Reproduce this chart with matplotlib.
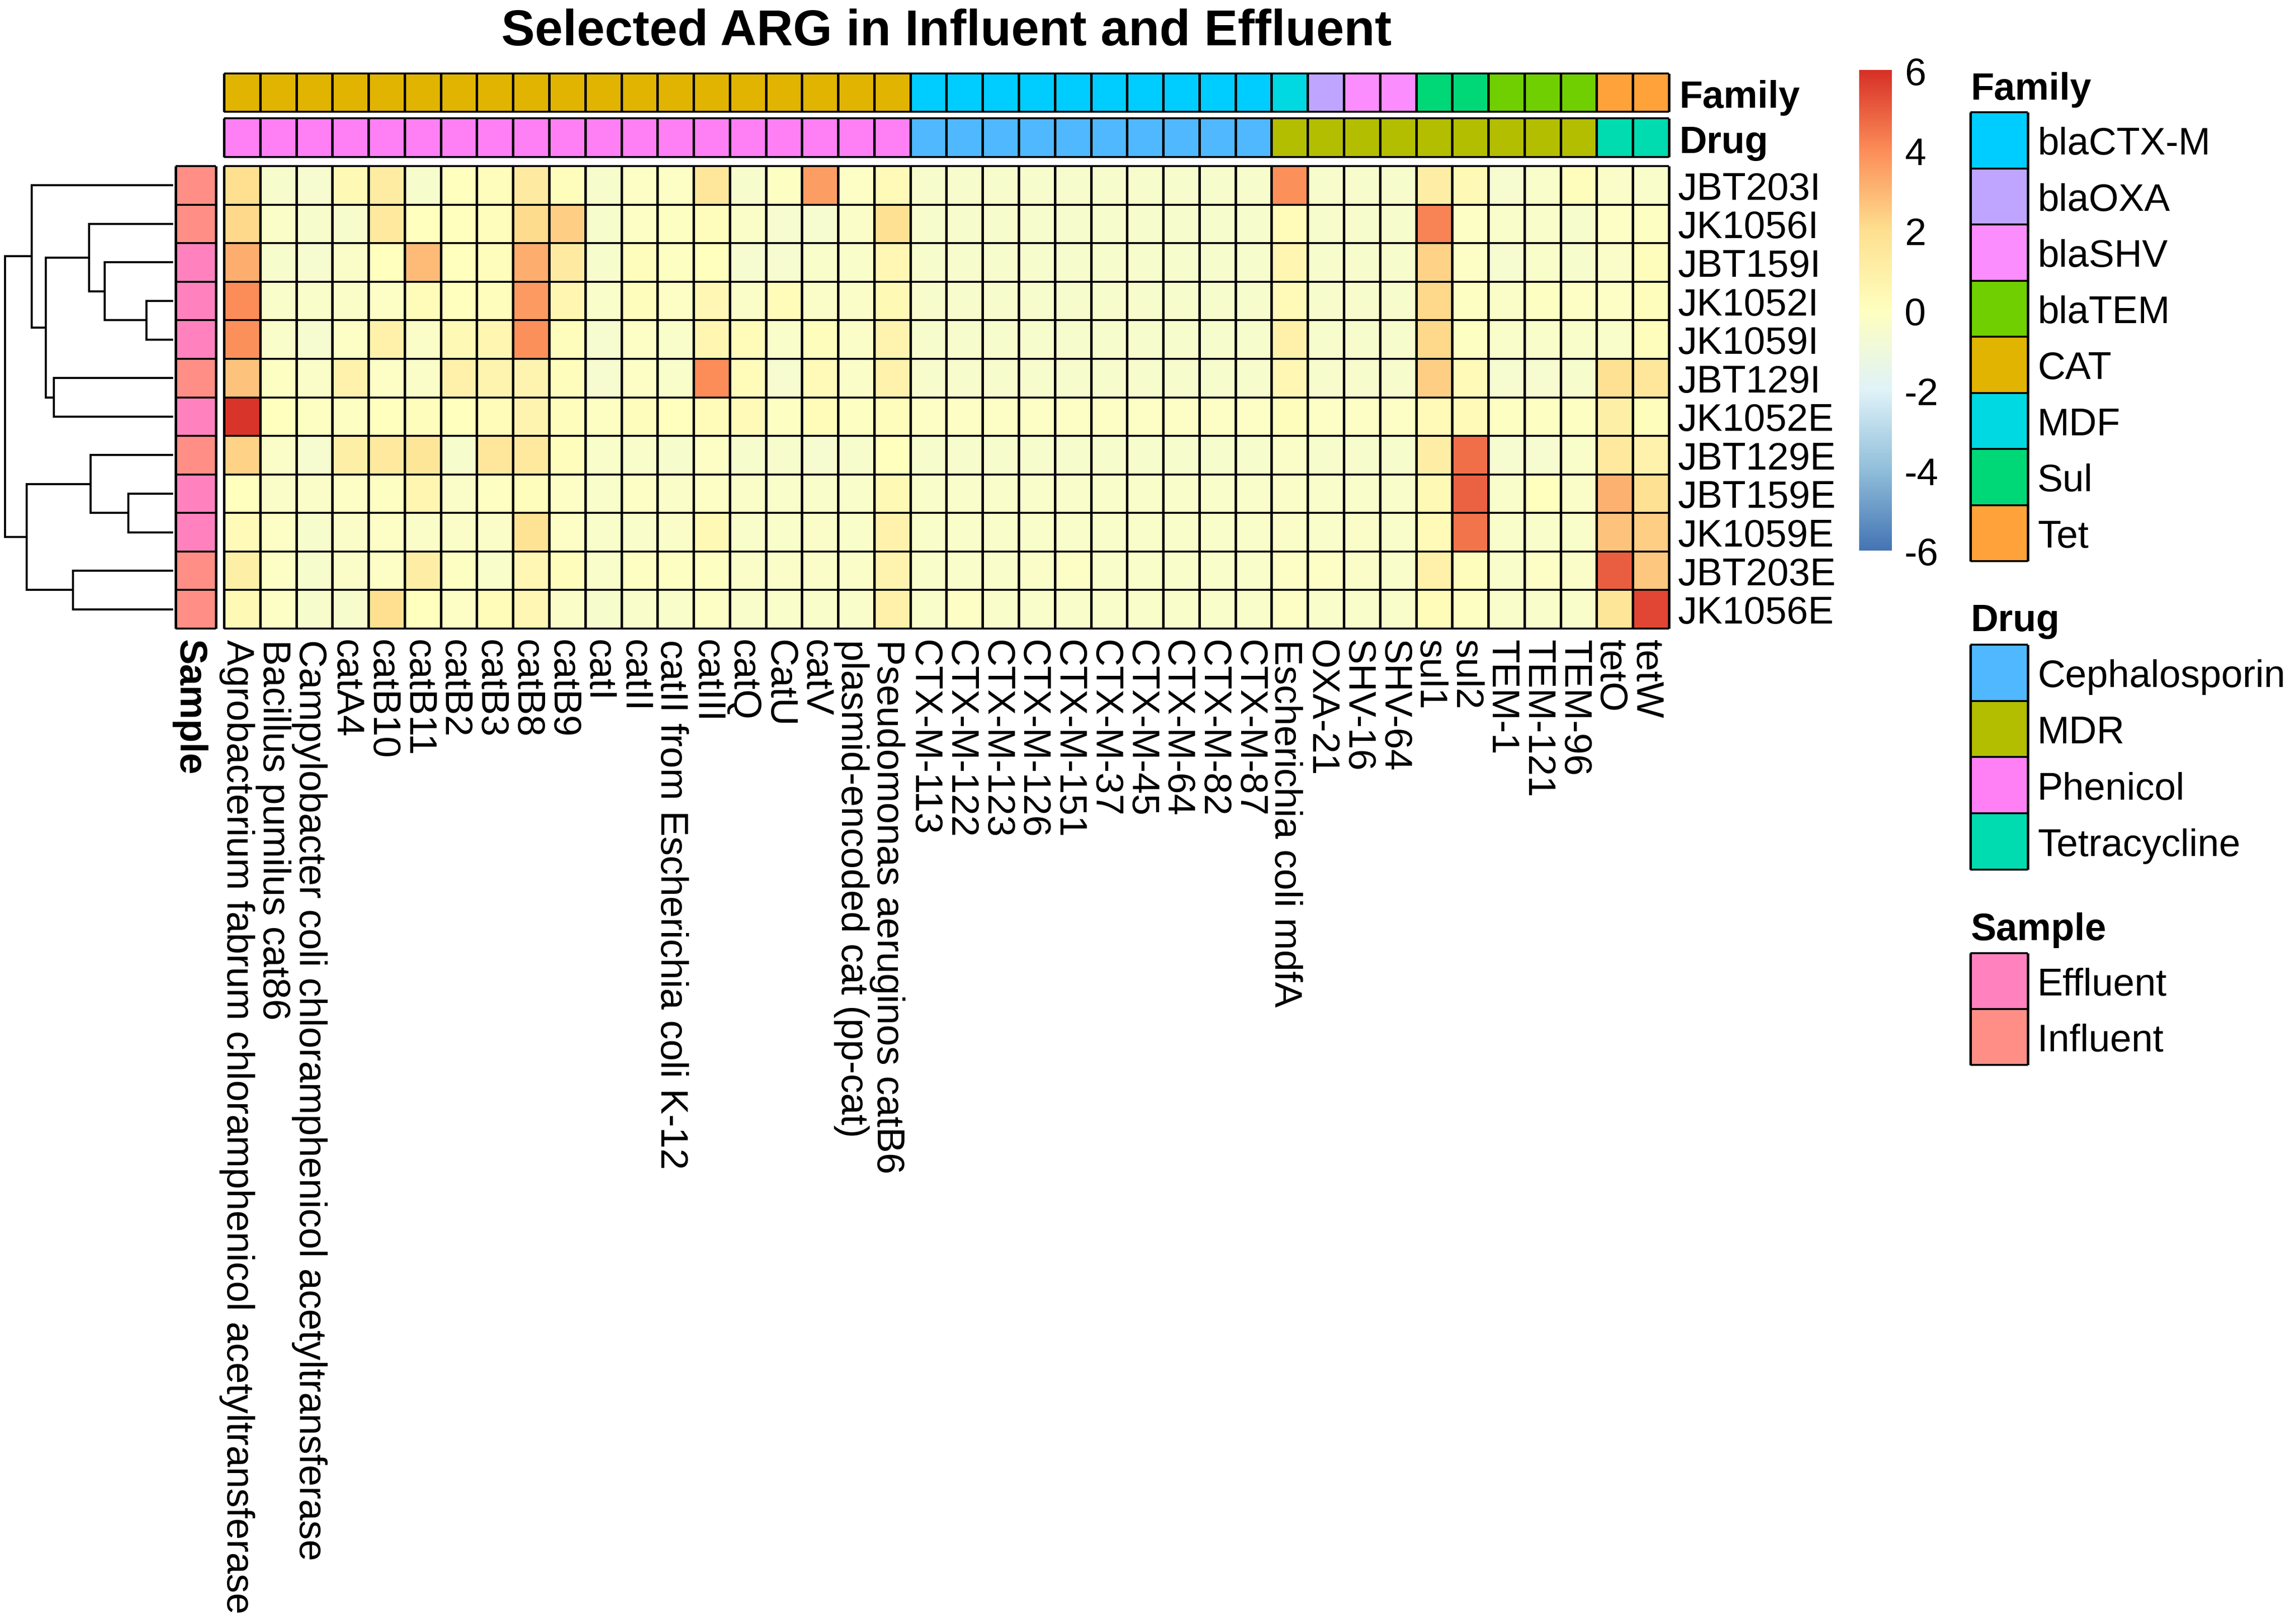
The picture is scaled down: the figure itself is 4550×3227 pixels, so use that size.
import numpy as np
import matplotlib
matplotlib.use("Agg")
import matplotlib.pyplot as plt
from matplotlib.colors import LinearSegmentedColormap, ListedColormap

plt.rcParams['font.family'] = ['Liberation Sans', 'DejaVu Sans']

W, H = 4550, 3227

title = "Selected ARG in Influent and Effluent"

samples = ["JBT203I", "JK1056I", "JBT159I", "JK1052I", "JK1059I", "JBT129I",
           "JK1052E", "JBT129E", "JBT159E", "JK1059E", "JBT203E", "JK1056E"]
sample_type = ["Influent", "Influent", "Effluent", "Effluent", "Effluent", "Influent",
               "Effluent", "Influent", "Effluent", "Effluent", "Influent", "Influent"]

genes = ["Agrobacterium fabrum chloramphenicol acetyltransferase", "Bacillus pumilus cat86",
         "Campylobacter coli chloramphenicol acetyltransferase", "catA4", "catB10", "catB11",
         "catB2", "catB3", "catB8", "catB9", "catI", "catII",
         "catII from Escherichia coli K-12", "catIII", "catQ", "CatU", "catV",
         "plasmid-encoded cat (pp-cat)", "Pseudomonas aeruginos catB6",
         "CTX-M-113", "CTX-M-122", "CTX-M-123", "CTX-M-126", "CTX-M-151", "CTX-M-37",
         "CTX-M-45", "CTX-M-64", "CTX-M-82", "CTX-M-87",
         "Escherichia coli mdfA", "OXA-21", "SHV-16", "SHV-64", "sul1", "sul2",
         "TEM-1", "TEM-121", "TEM-96", "tetO", "tetW"]

gene_family = ["CAT"] * 19 + ["blaCTX-M"] * 10 + ["MDF", "blaOXA", "blaSHV", "blaSHV", "Sul", "Sul",
                                                   "blaTEM", "blaTEM", "blaTEM", "Tet", "Tet"]
gene_drug = ["Phenicol"] * 19 + ["Cephalosporin"] * 10 + ["MDR"] * 9 + ["Tetracycline"] * 2

# one list per gene, rows in the order of `samples`
phenicol_values = [
    [2.0, 2.2, 3.2, 4.0, 3.9, 2.7, 5.9, 2.3, 0.0, 0.3, 1.0, 0.4],
    [-0.5, -0.3, -0.5, -0.4, -0.4, -0.1, 0.0, -0.3, -0.3, -0.2, -0.2, -0.2],
    [-0.6, -0.5, -0.6, -0.4, -0.6, -0.3, -0.1, -0.6, -0.3, -0.5, -0.5, -0.5],
    [0.4, -0.5, -0.3, -0.3, -0.2, 0.8, -0.1, 1.0, -0.2, -0.3, -0.3, -0.5],
    [1.2, 1.4, 0.0, -0.2, 0.9, -0.2, 0.0, 1.4, -0.1, -0.2, -0.2, 2.0],
    [-0.5, 0.0, 2.9, 0.2, -0.3, -0.3, 0.1, 1.6, 0.6, -0.3, 1.1, 0.0],
    [0.0, 0.0, 0.0, 0.0, 0.4, 0.9, 0.0, -0.5, -0.3, -0.3, -0.1, -0.2],
    [0.1, 0.1, 0.1, 0.1, 0.6, 0.7, 0.2, 1.5, -0.1, -0.3, -0.4, 0.2],
    [1.3, 2.1, 3.2, 3.7, 3.9, 0.7, 0.7, 1.4, 0.1, 1.8, 0.5, 0.5],
    [0.1, 2.4, 1.3, 0.6, 0.1, 0.1, 0.1, 0.1, -0.2, -0.2, 0.1, -0.3],
    [-0.5, -0.5, -0.5, -0.4, -0.6, -0.6, -0.1, -0.4, -0.4, -0.4, -0.4, -0.5],
    [-0.2, -0.2, 0.1, 0.1, -0.2, -0.2, 0.1, -0.4, -0.2, -0.4, -0.1, -0.4],
    [-0.2, -0.1, -0.1, -0.2, -0.4, -0.4, 0.0, -0.5, -0.3, -0.3, -0.1, -0.4],
    [1.5, 0.1, 0.0, 0.5, 0.6, 4.0, 0.2, -0.2, -0.2, 0.4, -0.1, -0.2],
    [-0.5, -0.3, -0.6, -0.3, 0.2, 0.2, 0.3, -0.5, -0.3, -0.4, -0.3, -0.4],
    [-0.1, -0.6, -0.6, 0.2, -0.4, -0.6, -0.1, -0.5, -0.4, -0.4, -0.3, -0.4],
    [3.6, -0.6, -0.4, -0.3, 0.1, 0.3, 0.2, -0.6, -0.4, -0.3, -0.3, -0.4],
    [-0.2, -0.3, -0.4, -0.3, -0.3, -0.3, -0.1, -0.5, -0.4, -0.4, -0.3, -0.4],
    [0.3, 1.9, 0.5, 0.4, 0.7, 0.8, 0.1, 0.0, 0.4, 0.8, 0.7, 0.9],
]
ctx_values = [
    [-0.5, -0.5, -0.5, -0.5, -0.5, -0.5, -0.2, -0.5, -0.4, -0.4, -0.4, -0.4],
    [-0.5, -0.5, -0.5, -0.5, -0.5, -0.5, -0.2, -0.5, -0.4, -0.4, -0.4, -0.2],
    [-0.5, -0.5, -0.5, -0.5, -0.5, -0.5, -0.2, -0.5, -0.4, -0.4, -0.4, -0.4],
    [-0.5, -0.5, -0.5, -0.5, -0.5, -0.5, -0.2, -0.5, -0.4, -0.4, -0.3, -0.4],
    [-0.5, -0.5, -0.5, -0.5, -0.5, -0.5, -0.2, -0.5, -0.4, -0.4, -0.2, -0.4],
    [-0.5, -0.5, -0.5, -0.5, -0.5, -0.5, -0.2, -0.5, -0.4, -0.4, -0.4, -0.4],
    [-0.5, -0.5, -0.5, -0.5, -0.5, -0.5, -0.2, -0.5, -0.4, -0.4, -0.4, -0.4],
    [-0.5, -0.5, -0.5, -0.5, -0.5, -0.5, -0.2, -0.5, -0.4, -0.4, -0.4, -0.4],
    [-0.5, -0.5, -0.5, -0.5, -0.5, -0.5, -0.2, -0.5, -0.4, -0.4, -0.4, -0.4],
    [-0.5, -0.5, -0.5, -0.5, -0.5, -0.5, -0.2, -0.5, -0.4, -0.4, -0.4, -0.4],
]
other_values = [
    [3.9, 0.2, 0.6, 0.3, 0.9, 0.5, 0.1, -0.3, -0.3, -0.3, -0.2, -0.2],
    [-0.5, -0.5, -0.5, -0.5, -0.5, -0.5, -0.2, -0.5, -0.4, -0.4, -0.2, -0.4],
    [-0.5, -0.5, -0.5, -0.5, -0.5, -0.5, -0.2, -0.5, -0.4, -0.3, -0.3, -0.4],
    [-0.5, -0.5, -0.5, -0.5, -0.5, -0.5, -0.2, -0.5, -0.4, -0.4, -0.4, -0.4],
    [1.1, 4.2, 2.3, 2.2, 2.2, 2.4, 0.3, 1.1, 0.4, 0.3, 0.9, 0.2],
    [0.4, -0.2, -0.2, -0.1, -0.1, 0.3, 0.3, 4.6, 4.9, 4.5, 0.1, -0.1],
    [-0.6, -0.4, -0.6, -0.3, -0.4, -0.6, -0.1, -0.6, -0.4, -0.4, -0.4, -0.4],
    [-0.4, -0.4, -0.4, -0.1, -0.4, -0.6, -0.1, -0.6, 0.0, -0.4, -0.2, -0.4],
    [0.1, -0.5, -0.5, -0.2, -0.4, -0.5, -0.1, -0.4, -0.3, -0.4, -0.3, -0.4],
    [-0.3, -0.2, -0.3, -0.2, -0.4, 1.9, 1.0, 1.4, 3.1, 2.7, 5.0, 1.6],
    [-0.4, -0.1, 0.1, 0.1, 0.1, 1.5, 0.1, 0.8, 1.9, 2.4, 2.6, 5.5],
]

# dendrogram merges: (child a, child b, height); ids below 12 are rows, 12+ are earlier merges
merges = [(3, 4, 53), (2, 12, 136), (1, 13, 167), (5, 6, 237), (14, 15, 253), (0, 16, 281),
          (8, 9, 89), (7, 18, 164), (10, 11, 199), (19, 20, 291), (17, 21, 334)]

scale_colors = ["#4575B4", "#91BFDB", "#E0F3F8", "#FFFFBF", "#FEE090", "#FC8D59", "#D73027"]
scale_ticks = [-6, -4, -2, 0, 2, 4, 6]

family_levels = ["blaCTX-M", "blaOXA", "blaSHV", "blaTEM", "CAT", "MDF", "Sul", "Tet"]
family_colors = ["#00CDFF", "#BFA5FF", "#FB8DFF", "#6FCF00", "#E0B400", "#00D8E2", "#00D877", "#FFA23A"]
drug_levels = ["Cephalosporin", "MDR", "Phenicol", "Tetracycline"]
drug_colors = ["#4FB8FF", "#B3BE00", "#FF80F4", "#00DBB0"]
sample_levels = ["Effluent", "Influent"]
sample_colors = ["#FF82BE", "#FF8F86"]

FS = 18.35
FSB = 18.2
LW_V = 1.2
LW_H = 0.9

fig = plt.figure(figsize=(W / 300, H / 300), dpi=300, facecolor="white")


def box(x0, y0, x1, y1):
    a = fig.add_axes([x0 / W, 1 - y1 / H, (x1 - x0) / W, (y1 - y0) / H])
    a.set_facecolor("none")
    return a


def ptext(x, y, s, **kw):
    fig.text(x / W, 1 - y / H, s, color="black", **kw)


def cells(a, data, **kw):
    data = np.asarray(data)
    nr, nc = data.shape
    a.pcolormesh(np.arange(nc + 1), np.arange(nr + 1), data, **kw)
    a.set_xlim(0, nc)
    a.set_ylim(nr, 0)
    a.axis("off")
    a.vlines(np.arange(nc + 1), 0, nr, color="black", lw=LW_V, clip_on=False, zorder=3)
    a.hlines(np.arange(nr + 1), 0, nc, color="black", lw=LW_H, clip_on=False, zorder=3)


def categorical(a, levels, colors, values, vertical=False):
    idx = np.array([levels.index(v) for v in values])
    idx = idx[:, None] if vertical else idx[None, :]
    cells(a, idx, cmap=ListedColormap(colors), vmin=-0.5, vmax=len(levels) - 0.5)


# main heat map
matrix = np.column_stack(phenicol_values + ctx_values + other_values)
cmap = LinearSegmentedColormap.from_list("rdylbu", scale_colors, N=256)
hm = box(445, 330, 3316, 1249)
cells(hm, matrix, cmap=cmap, vmin=-6, vmax=6)

col_w = (3316 - 445) / len(genes)
row_h = (1249 - 330) / len(samples)
for i, g in enumerate(genes):
    ptext(445 + (i + 0.5) * col_w - 10, 1271, g, rotation=270, ha="center", va="top", fontsize=FS)
for j, s in enumerate(samples):
    ptext(3334, 330 + (j + 0.5) * row_h + 9, s, ha="left", va="center", fontsize=FS)

# annotation tracks
categorical(box(445, 146, 3316, 222), family_levels, family_colors, gene_family)
categorical(box(445, 235, 3316, 312), drug_levels, drug_colors, gene_drug)
categorical(box(349, 330, 429, 1249), sample_levels, sample_colors, sample_type, vertical=True)
ptext(3337, 195, "Family", ha="left", va="center", fontsize=FSB, fontweight="bold")
ptext(3337, 284, "Drug", ha="left", va="center", fontsize=FSB, fontweight="bold")
ptext(375, 1271, "Sample", rotation=270, ha="center", va="top", fontsize=FSB, fontweight="bold")

# dendrogram
dn = box(0, 330, 344, 1249)
dn.set_xlim(344, 0)
dn.set_ylim(len(samples), 0)
dn.axis("off")
pos = {i: (0.0, i + 0.5) for i in range(len(samples))}
for k, (a, b, h) in enumerate(merges):
    ha_, ya = pos[a]
    hb, yb = pos[b]
    dn.plot([ha_, h, h, hb], [ya, ya, yb, yb], color="black", lw=1.0,
            solid_joinstyle="miter", solid_capstyle="butt", clip_on=False)
    pos[len(samples) + k] = (h, (ya + yb) / 2)

# colour scale
cb = box(3694, 139, 3759, 1095)
grad = np.linspace(6, -6, 512)[:, None]
cb.imshow(grad, cmap=cmap, vmin=-6, vmax=6, aspect="auto", extent=(0, 1, -5.99, 6.03))
cb.set_ylim(-5.99, 6.03)
cb.set_xticks([])
cb.yaxis.tick_right()
cb.set_yticks(scale_ticks)
cb.set_yticklabels([str(t) for t in scale_ticks], fontsize=FS)
cb.tick_params(axis="y", length=0, pad=6)
for sp in cb.spines.values():
    sp.set_visible(False)


# legends
def legend(title_text, title_y, levels, colors, y0, y1):
    ptext(3916, title_y, title_text, ha="left", va="center", fontsize=FSB, fontweight="bold")
    a = box(3915, y0, 4029, y1)
    categorical(a, levels, colors, levels, vertical=True)
    step = (y1 - y0) / len(levels)
    for i, lv in enumerate(levels):
        ptext(4048, y0 + (i + 0.5) * step + 9, lv, ha="left", va="center", fontsize=FS)


legend("Family", 178, family_levels, family_colors, 223, 1115)
legend("Drug", 1235, drug_levels, drug_colors, 1281, 1728)
legend("Sample", 1848, sample_levels, sample_colors, 1894, 2116)

ptext(1881, 64, title, ha="center", va="center", fontsize=24, fontweight="bold")

fig.savefig("out.png", dpi=300, facecolor="white")
